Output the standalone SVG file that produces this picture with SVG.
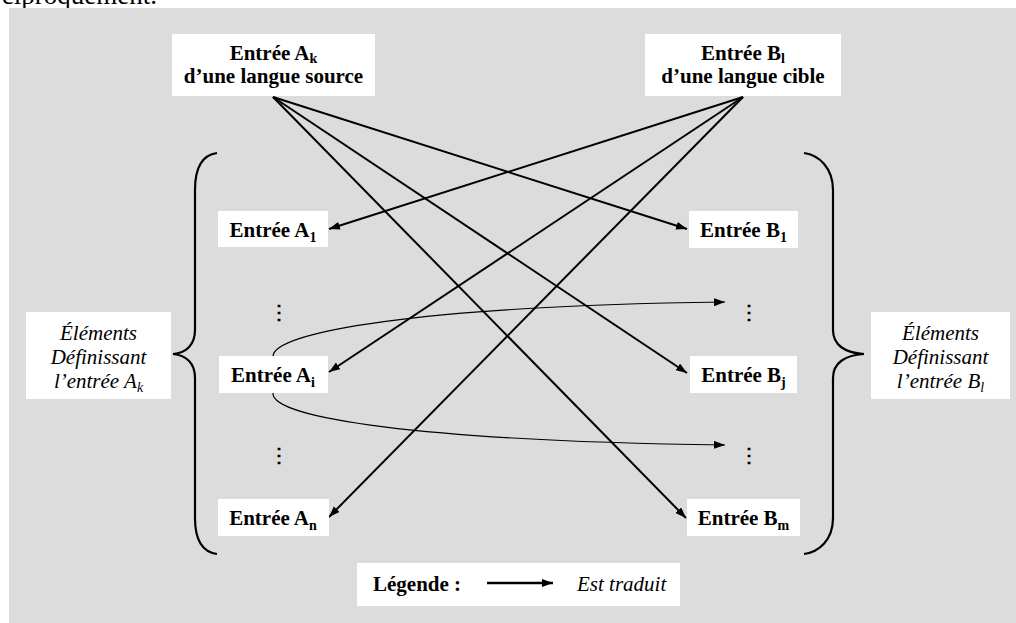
<svg xmlns="http://www.w3.org/2000/svg" width="1016" height="623" viewBox="0 0 1016 623">
<defs>
<style>
.bg{fill:#dcdcdc}
.box{fill:#ffffff}
.b{font-family:'Liberation Serif','Times New Roman',Times,'DejaVu Serif',serif;font-weight:bold;font-size:21px;fill:#000}
.i{font-family:'Liberation Serif','Times New Roman',Times,'DejaVu Serif',serif;font-style:italic;font-size:21px;fill:#000}
.sub{font-size:14px}
.dots{font-family:'DejaVu Serif',serif;font-weight:bold;font-size:20px;fill:#000}
.edge{stroke:#000;stroke-width:2;fill:none;marker-end:url(#ah)}
.curve{stroke:#000;stroke-width:1.2;fill:none;marker-end:url(#ah)}
.brace{stroke:#000;stroke-width:2.2;fill:none}
</style>
<marker id="ah" markerUnits="userSpaceOnUse" markerWidth="12" markerHeight="9" refX="11" refY="4" orient="auto">
<path d="M0,0 L11,4 L0,8 z" fill="#000"/>
</marker>
</defs>
<text x="157" y="4" font-family="'Liberation Serif','Times New Roman','DejaVu Serif',serif" font-size="27" text-anchor="end">ciproquement.</text>
<rect class="bg" x="9" y="8" width="1007" height="615"/>

<g id="braces">
<path class="brace" d="M217,153 C202,155 195,168 195,190 L195,330 C195,345 186,353 173,354 C186,355 195,363 195,378 L195,518 C195,540 202,552 217,554"/>
<path class="brace" d="M804,153 C819,155 833,168 833,190 L833,330 C833,345 845,353 864,354 C845,355 833,363 833,378 L833,518 C833,540 819,552 804,554"/>
</g>

<g id="connectors">
<line class="edge" x1="273" y1="97" x2="687" y2="229"/>
<line class="edge" x1="273" y1="97" x2="687" y2="373"/>
<line class="edge" x1="273" y1="97" x2="686" y2="518"/>
<line class="edge" x1="743" y1="97" x2="329" y2="229"/>
<line class="edge" x1="743" y1="97" x2="329" y2="372"/>
<line class="edge" x1="743" y1="97" x2="329" y2="517"/>
<path class="curve" d="M273,357 C271,332 420,306 725,302"/>
<path class="curve" d="M273,393 C271,418 420,441 725,445"/>
</g>

<g id="nodeAk">
<rect class="box" x="172" y="34" width="203" height="62"/>
<text class="b" x="273.5" y="60" text-anchor="middle">Entrée A<tspan class="sub" dy="3">k</tspan></text>
<text class="b" x="273.5" y="83" text-anchor="middle">d’une langue source</text>
</g>
<g id="nodeBl">
<rect class="box" x="645" y="34" width="196" height="62"/>
<text class="b" x="743" y="60" text-anchor="middle">Entrée B<tspan class="sub" dy="3">l</tspan></text>
<text class="b" x="743" y="83" text-anchor="middle">d’une langue cible</text>
</g>

<g id="nodeA1">
<rect class="box" x="218" y="211" width="110" height="36"/>
<text class="b" x="273" y="237" text-anchor="middle">Entrée A<tspan class="sub" dy="5">1</tspan></text>
</g>
<g id="nodeAi">
<rect class="box" x="219" y="356" width="109" height="37"/>
<text class="b" x="273" y="382" text-anchor="middle">Entrée A<tspan class="sub" dy="5">i</tspan></text>
</g>
<g id="nodeAn">
<rect class="box" x="218" y="499" width="111" height="37"/>
<text class="b" x="273" y="525" text-anchor="middle">Entrée A<tspan class="sub" dy="5">n</tspan></text>
</g>
<g id="nodeB1">
<rect class="box" x="689" y="211" width="109" height="37"/>
<text class="b" x="743.5" y="237" text-anchor="middle">Entrée B<tspan class="sub" dy="5">1</tspan></text>
</g>
<g id="nodeBj">
<rect class="box" x="690" y="356" width="107" height="37"/>
<text class="b" x="743.5" y="382" text-anchor="middle">Entrée B<tspan class="sub" dy="5">j</tspan></text>
</g>
<g id="nodeBm">
<rect class="box" x="687" y="499" width="113" height="37"/>
<text class="b" x="743.5" y="525" text-anchor="middle">Entrée B<tspan class="sub" dy="5">m</tspan></text>
</g>

<g id="dots">
<text class="dots" x="279" y="319" text-anchor="middle">⋮</text>
<text class="dots" x="279" y="462" text-anchor="middle">⋮</text>
<text class="dots" x="749" y="319" text-anchor="middle">⋮</text>
<text class="dots" x="749" y="462" text-anchor="middle">⋮</text>
</g>

<g id="labelA">
<rect class="box" x="26" y="312" width="145" height="87"/>
<text class="i" x="98.5" y="340" text-anchor="middle">Éléments</text>
<text class="i" x="98.5" y="364" text-anchor="middle">Définissant</text>
<text class="i" x="98.5" y="388" text-anchor="middle">l’entrée A<tspan class="sub" dy="4">k</tspan></text>
</g>
<g id="labelB">
<rect class="box" x="871" y="312" width="139" height="87"/>
<text class="i" x="940.5" y="340" text-anchor="middle">Éléments</text>
<text class="i" x="940.5" y="364" text-anchor="middle">Définissant</text>
<text class="i" x="940.5" y="388" text-anchor="middle">l’entrée B<tspan class="sub" dy="4">l</tspan></text>
</g>

<g id="legend">
<rect class="box" x="357" y="563" width="323" height="43"/>
<text class="b" x="373" y="591">Légende :</text>
<line x1="487" y1="583" x2="553" y2="583" stroke="#000" stroke-width="2.5" marker-end="url(#ah)"/>
<text class="i" x="577" y="591">Est traduit</text>
</g>
</svg>
